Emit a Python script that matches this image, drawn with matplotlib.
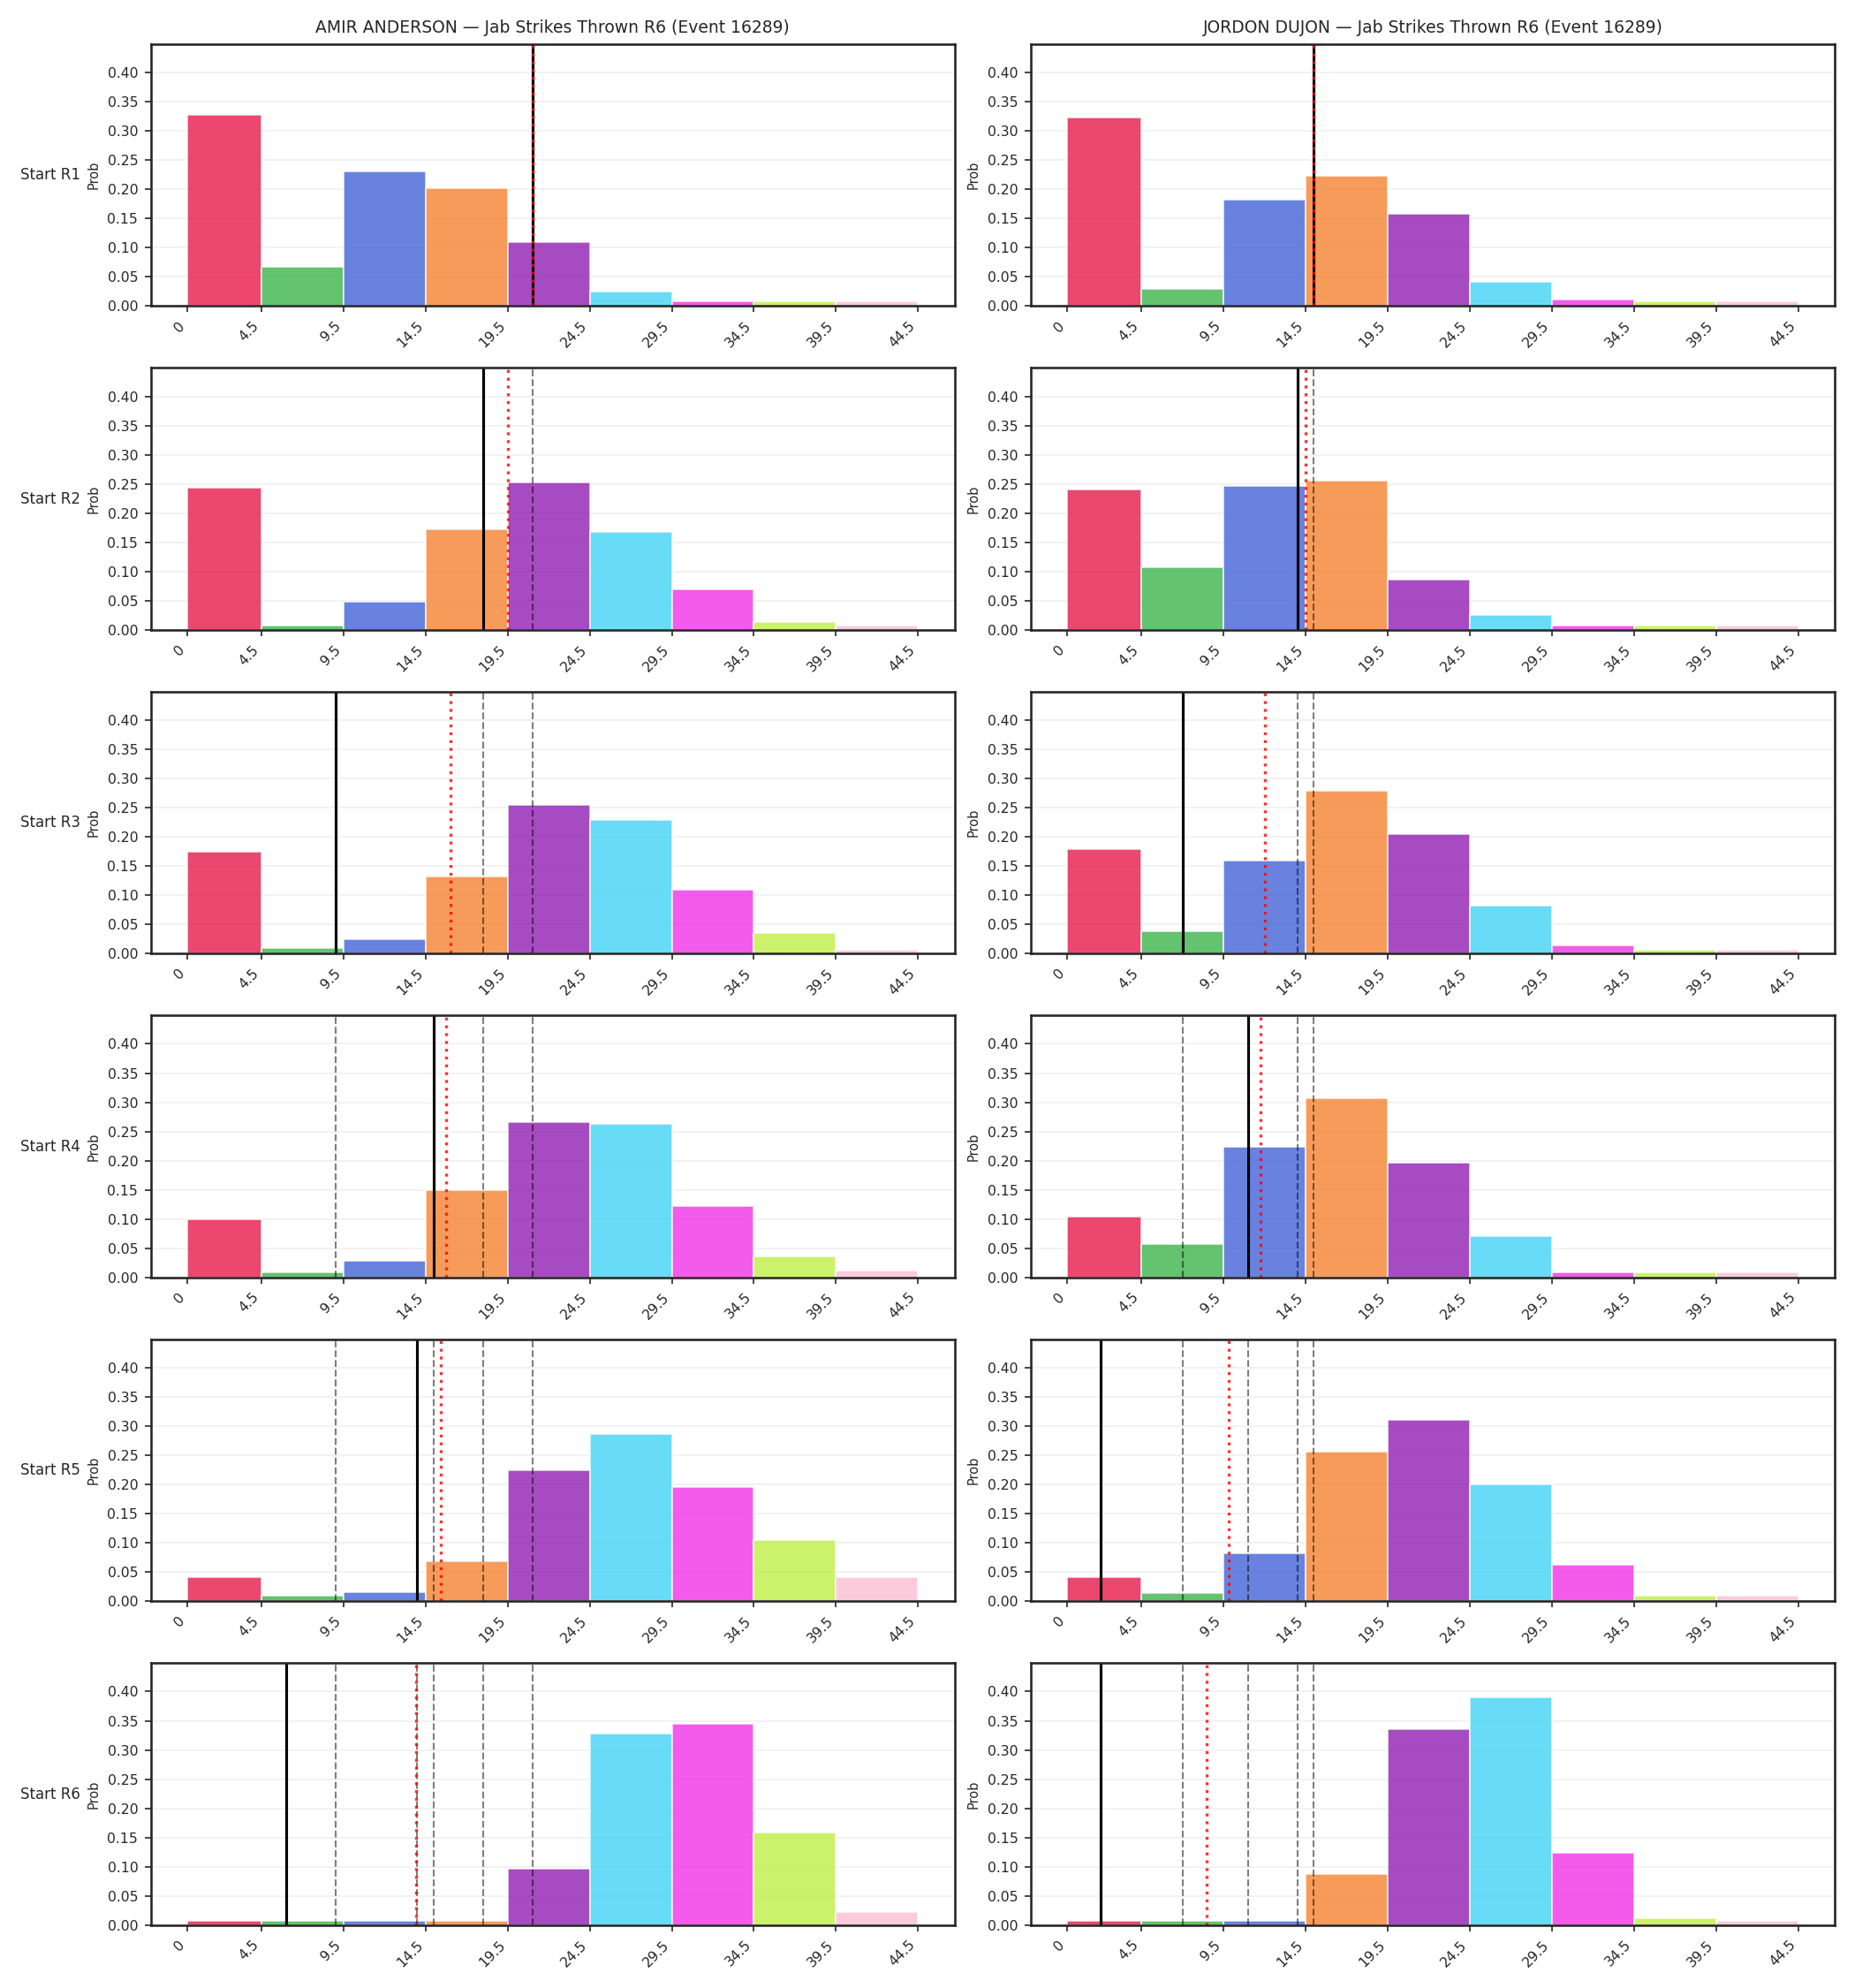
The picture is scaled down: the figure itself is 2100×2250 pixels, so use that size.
import numpy as np
import matplotlib
matplotlib.use("Agg")
import matplotlib.pyplot as plt
import seaborn as sns

sns.set_style("ticks")
plt.rcParams['font.family'] = ['DejaVu Sans']

# bins of strikes thrown
edges = [0, 4.5, 9.5, 14.5, 19.5, 24.5, 29.5, 34.5, 39.5, 44.5]
tick_labels = ["0", "4.5", "9.5", "14.5", "19.5", "24.5", "29.5", "34.5", "39.5", "44.5"]
bin_colors = ['#e6194b', '#3cb44b', '#4363d8', '#f58231', '#911eb4',
              '#42d4f4', '#f032e6', '#bfef45', '#fabed4']

rounds = ["Start R1", "Start R2", "Start R3", "Start R4", "Start R5", "Start R6"]

amir_probs = [
    [0.327, 0.068, 0.230, 0.202, 0.110, 0.025, 0.009, 0.009, 0.009],
    [0.244, 0.008, 0.049, 0.172, 0.253, 0.168, 0.069, 0.014, 0.008],
    [0.174, 0.010, 0.025, 0.132, 0.255, 0.229, 0.109, 0.036, 0.007],
    [0.099, 0.009, 0.029, 0.149, 0.266, 0.263, 0.123, 0.036, 0.012],
    [0.041, 0.009, 0.016, 0.069, 0.224, 0.286, 0.196, 0.105, 0.041],
    [0.008, 0.008, 0.008, 0.008, 0.097, 0.328, 0.344, 0.158, 0.022],
]
jordon_probs = [
    [0.323, 0.030, 0.182, 0.223, 0.158, 0.041, 0.012, 0.009, 0.009],
    [0.240, 0.107, 0.247, 0.256, 0.086, 0.025, 0.008, 0.008, 0.008],
    [0.179, 0.039, 0.160, 0.279, 0.205, 0.083, 0.014, 0.007, 0.007],
    [0.105, 0.057, 0.224, 0.307, 0.196, 0.071, 0.009, 0.009, 0.009],
    [0.042, 0.014, 0.082, 0.257, 0.310, 0.201, 0.063, 0.009, 0.009],
    [0.008, 0.008, 0.008, 0.088, 0.335, 0.390, 0.124, 0.012, 0.008],
]

# running count at start of each round (black) and projected mean (red)
amir_actual = [21, 18, 9, 15, 14, 6]
amir_mean = [21, 19.5, 16.0, 15.75, 15.4, 13.9]
jordon_actual = [15, 14, 7, 11, 2, 2]
jordon_mean = [15, 14.5, 12.0, 11.75, 9.8, 8.5]

fighters = [
    ("AMIR ANDERSON", amir_probs, amir_actual, amir_mean),
    ("JORDON DUJON", jordon_probs, jordon_actual, jordon_mean),
]

ymax = max(max(max(r) for r in amir_probs), max(max(r) for r in jordon_probs)) * 1.15
widths = np.diff(edges)

fig, axes = plt.subplots(6, 2, figsize=(14, 15), dpi=150)
fig.subplots_adjust(left=0.0814, right=0.989, top=0.9778, bottom=0.0316,
                    wspace=0.095, hspace=0.236)

for col, (name, probs, actual, mean) in enumerate(fighters):
    for r in range(6):
        ax = axes[r, col]
        ax.bar(edges[:-1], probs[r], width=widths, align='edge',
               color=bin_colors, alpha=0.8, edgecolor='white', linewidth=0.8)
        for prev in actual[:r]:
            ax.axvline(prev, color='k', alpha=0.5, ls='--', lw=1)
        ax.axvline(actual[r], color='k', lw=1.5)
        ax.axvline(mean[r], color='red', alpha=0.8, ls=':', lw=1.6)
        ax.set_ylim(0, ymax)
        ax.set_xticks(edges)
        ax.set_xticklabels(tick_labels, rotation=45, ha='right', fontsize=7.5)
        ax.tick_params(axis='y', labelsize=7.5)
        ax.set_ylabel("Prob", fontsize=7)
        ax.grid(axis='y', alpha=0.3)
        for s in ax.spines.values():
            s.set_linewidth(1.25)
        if r == 0:
            ax.set_title(f"{name} — Jab Strikes Thrown R6 (Event 16289)", fontsize=9)
        if col == 0:
            ax.text(-0.088, 0.5, rounds[r], transform=ax.transAxes,
                    ha='right', va='center', fontsize=8)

fig.savefig("out.png", dpi=150)
